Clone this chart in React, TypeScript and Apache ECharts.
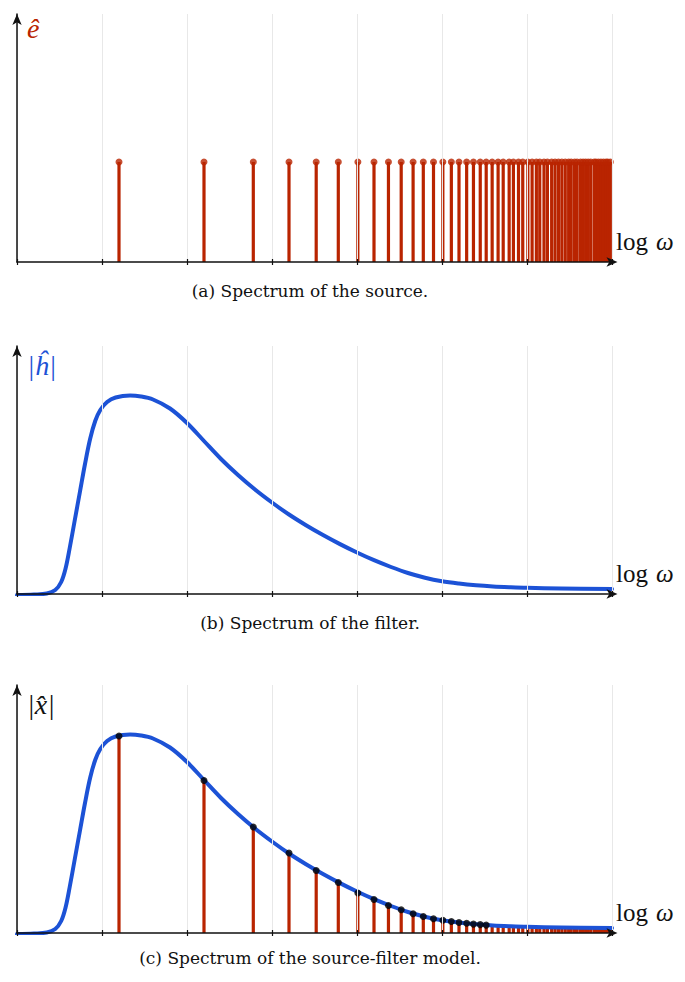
import React, { useEffect, useRef } from "react";
import * as echarts from "echarts";

// ---- Data ----
// x axis is log ω (one unit per vertical grid line), 0 .. 7
const X_MIN = 0;
const X_MAX = 7;
const X_INTERVAL = 1;
const Y_MAX = 2.48;

// positions (log ω) of the harmonics of the source
const harmonicLogFreq = [
  1.2, 2.2, 2.78, 3.2, 3.52, 3.78, 4.01, 4.2, 4.37, 4.52,
  4.66, 4.78, 4.9, 5.01, 5.11, 5.2, 5.29, 5.37, 5.45, 5.52,
  5.59, 5.66, 5.72, 5.79, 5.84, 5.9, 5.95, 6.01, 6.06, 6.11,
  6.15, 6.2, 6.24, 6.29, 6.33, 6.37, 6.41, 6.45, 6.49, 6.52,
  6.56, 6.59, 6.63, 6.66, 6.69, 6.72, 6.75, 6.79, 6.81, 6.84,
  6.87, 6.9, 6.93, 6.95, 6.98,
];

// every harmonic of the source has the same amplitude
const sourceAmplitude = 1.0;

// filter magnitude |h| along log ω
const filterCurve: [number, number][] = [
  [0.0, -0.01], [0.2, -0.005], [0.35, 0.005], [0.45, 0.04], [0.52, 0.12],
  [0.57, 0.25], [0.62, 0.46], [0.68, 0.74], [0.74, 1.02], [0.8, 1.3],
  [0.86, 1.55], [0.92, 1.73], [0.98, 1.84], [1.06, 1.92], [1.16, 1.965],
  [1.33, 1.985], [1.46, 1.975], [1.6, 1.945], [1.8, 1.855], [2.0, 1.71],
  [2.2, 1.53], [2.4, 1.35], [2.6, 1.19], [2.8, 1.045], [3.0, 0.915],
  [3.2, 0.795], [3.4, 0.688], [3.6, 0.59], [3.8, 0.499], [4.0, 0.415],
  [4.2, 0.338], [4.4, 0.27], [4.6, 0.21], [4.8, 0.163], [5.0, 0.128],
  [5.2, 0.105], [5.4, 0.088], [5.6, 0.076], [5.8, 0.068], [6.0, 0.062],
  [6.4, 0.056], [7.0, 0.05],
];

// amplitude of each harmonic of the source-filter model |x|
const modelAmplitude = [
  1.97, 1.525, 1.06, 0.8, 0.625, 0.505, 0.4, 0.335, 0.275, 0.232,
  0.193, 0.165, 0.143, 0.127, 0.115, 0.105, 0.097, 0.089, 0.084, 0.079,
  0.076, 0.074, 0.072, 0.069, 0.067, 0.065, 0.064, 0.062, 0.061, 0.06,
  0.059, 0.059, 0.058, 0.058, 0.057, 0.057, 0.056, 0.055, 0.055, 0.054,
  0.054, 0.054, 0.053, 0.053, 0.053, 0.052, 0.052, 0.052, 0.051, 0.051,
  0.051, 0.051, 0.05, 0.05, 0.05,
];

// number of harmonics marked with a dot in panel (c)
const dottedHarmonics = 20;

const captions = [
  "(a) Spectrum of the source.",
  "(b) Spectrum of the filter.",
  "(c) Spectrum of the source-filter model.",
];
const yLabels = ["ê", "|ĥ|", "|x\u0302|"];
const xLabel = ["log", "ω"];

// ---- Style ----
const RED = "#b92400";
const BLUE = "#1c52d6";
const INK = "#111111";
const GRID_LEFT = 17;
const GRID_WIDTH = 595;
const GRID_HEIGHT = 248;
const GRID_TOPS = [14, 346, 685];
const CAPTION_Y = [291, 623, 958];
const LABEL_Y = [28, 365, 704];
const CAPTION_FONT = "DejaVu Serif";
const MATH_FONT = "Liberation Serif";

function stemRenderer(color: string) {
  return (params: any, api: any) => {
    const x = api.value(0);
    const y = api.value(1);
    const p0 = api.coord([x, 0]);
    const p1 = api.coord([x, y]);
    return {
      type: "line",
      shape: { x1: p0[0], y1: p0[1], x2: p1[0], y2: p1[1] },
      style: { stroke: color, lineWidth: 3.2 },
    };
  };
}

export default function App() {
  const ref = useRef<HTMLDivElement>(null);

  useEffect(() => {
    if (!ref.current) return;
    const chart = echarts.init(ref.current, undefined, { renderer: "svg" });

    const grids = GRID_TOPS.map((top) => ({
      left: GRID_LEFT,
      top,
      width: GRID_WIDTH,
      height: GRID_HEIGHT,
      containLabel: false,
    }));

    const xAxes: any[] = [];
    const yAxes: any[] = [];
    GRID_TOPS.forEach((_, i) => {
      xAxes.push({
        type: "value",
        gridIndex: i,
        position: "bottom",
        min: X_MIN,
        max: X_MAX,
        interval: X_INTERVAL,
        axisLine: {
          show: true,
          onZero: false,
          symbol: ["none", "arrow"],
          symbolSize: [7, 11],
          symbolOffset: [0, 5.5],
          lineStyle: { color: INK, width: 1.5 },
        },
        axisTick: { show: true, inside: false, length: 3, lineStyle: { color: INK, width: 1.2 } },
        axisLabel: { show: false },
        splitLine: { show: true, lineStyle: { color: "#e8e8e8", width: 1 } },
        z: 5,
      });
      xAxes.push({
        type: "value",
        gridIndex: i,
        position: "bottom",
        min: X_MIN,
        max: X_MAX,
        interval: X_INTERVAL,
        axisLine: { show: false, onZero: false },
        axisTick: { show: true, inside: true, length: 3, lineStyle: { color: INK, width: 1.2 } },
        axisLabel: { show: false },
        splitLine: { show: false },
        z: 5,
      });
      yAxes.push({
        type: "value",
        gridIndex: i,
        min: 0,
        max: Y_MAX,
        axisLine: {
          show: true,
          onZero: false,
          symbol: ["none", "arrow"],
          symbolSize: [7, 11],
          lineStyle: { color: INK, width: 1.5 },
        },
        axisTick: { show: false },
        axisLabel: { show: false },
        splitLine: { show: false },
        z: 5,
      });
    });

    const sourceStems = harmonicLogFreq.map((x) => [x, sourceAmplitude]);
    const modelStems = harmonicLogFreq.map((x, i) => [x, modelAmplitude[i]]);
    const modelDots = modelStems.slice(0, dottedHarmonics);

    const curveSeries = (xi: number, yi: number) => ({
      type: "line",
      xAxisIndex: xi,
      yAxisIndex: yi,
      data: filterCurve,
      showSymbol: false,
      smooth: 0.35,
      lineStyle: { color: BLUE, width: 4, cap: "round", join: "round" },
      z: 3,
    });

    const series: any[] = [
      {
        type: "custom",
        xAxisIndex: 0,
        yAxisIndex: 0,
        data: sourceStems,
        renderItem: stemRenderer(RED),
        z: 2,
      },
      {
        type: "scatter",
        xAxisIndex: 0,
        yAxisIndex: 0,
        data: sourceStems,
        symbol: "circle",
        symbolSize: 7,
        itemStyle: { color: RED },
        z: 3,
      },
      curveSeries(2, 1),
      {
        type: "custom",
        xAxisIndex: 4,
        yAxisIndex: 2,
        data: modelStems,
        renderItem: stemRenderer(RED),
        z: 2,
      },
      curveSeries(4, 2),
      {
        type: "scatter",
        xAxisIndex: 4,
        yAxisIndex: 2,
        data: modelDots,
        symbol: "circle",
        symbolSize: 7,
        itemStyle: { color: "#000000" },
        z: 4,
      },
    ];

    const labelColors = [RED, BLUE, INK];
    const graphic: any[] = [];
    GRID_TOPS.forEach((top, i) => {
      const axisY = top + GRID_HEIGHT;
      graphic.push({
        type: "text",
        x: 310,
        y: CAPTION_Y[i],
        style: {
          text: captions[i],
          fontFamily: CAPTION_FONT,
          fontSize: 17,
          fill: INK,
          align: "center",
          verticalAlign: "middle",
        },
      });
      graphic.push({
        type: "text",
        x: 27,
        y: LABEL_Y[i],
        style: {
          text: yLabels[i],
          fontFamily: MATH_FONT,
          fontStyle: "italic",
          fontSize: 28,
          fill: labelColors[i],
          align: "left",
          verticalAlign: "middle",
        },
      });
      graphic.push({
        type: "text",
        x: 616,
        y: axisY - 21,
        style: {
          text: "{a|" + xLabel[0] + "}{b|" + xLabel[1] + "}",
          fill: INK,
          align: "left",
          verticalAlign: "middle",
          fontFamily: MATH_FONT,
          fontSize: 25,
          rich: {
            a: { fontFamily: MATH_FONT, fontSize: 25, fill: INK },
            b: { fontFamily: MATH_FONT, fontSize: 25, fontStyle: "italic", fill: INK, padding: [0, 0, 0, 8] },
          },
        },
      });
    });

    chart.setOption({
      animation: false,
      backgroundColor: "#ffffff",
      grid: grids,
      xAxis: xAxes,
      yAxis: yAxes,
      series,
      graphic,
    });

    return () => chart.dispose();
  }, []);

  return (
    <div
      ref={ref}
      style={{ position: "absolute", left: 0, top: 0, width: 685, height: 982, background: "#fff" }}
    />
  );
}
